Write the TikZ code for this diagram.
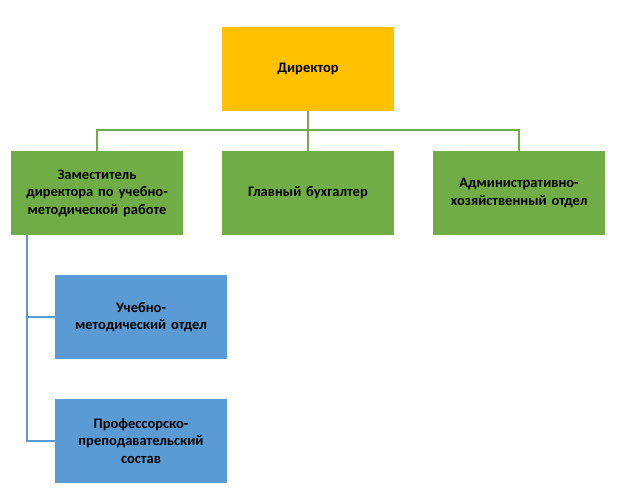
\documentclass[tikz,border=0pt]{standalone}
\usepackage{fontspec}
\setmainfont{Carlito}
\usetikzlibrary{positioning}

\begin{document}
\begin{tikzpicture}[x = 1pt, y = -1pt]
\tikzstyle{BoxStyle}=[shape = rectangle,
                      minimum width = 172pt,
                      minimum height = 84pt,
                      inner sep = 2pt,
                      align = center,
                      text width = 166pt,
                      font = \fontsize{14.5}{17.5}\selectfont\bfseries]
\useasboundingbox (0,0) rectangle (619,497);
\node[BoxStyle, fill = {rgb,255:red,255;green,192;blue,0}] (dir) at (308,69) {Директор};
\node[BoxStyle, fill = {rgb,255:red,112;green,173;blue,71}] (zam) at (97,193) {Заместитель директора по учебно-методической работе};
\node[BoxStyle, fill = {rgb,255:red,112;green,173;blue,71}] (buh) at (308,193) {Главный бухгалтер};
\node[BoxStyle, fill = {rgb,255:red,112;green,173;blue,71}] (adm) at (519,193) {Административно-хозяйственный отдел};
\node[BoxStyle, fill = {rgb,255:red,91;green,155;blue,213}] (umo) at (141,317) {Учебно-\\методический отдел};
\node[BoxStyle, fill = {rgb,255:red,91;green,155;blue,213}] (pps) at (141,441) {Профессорско-\\преподавательский\\состав};
% green connectors
\begin{scope}[draw = {rgb,255:red,112;green,173;blue,71}, line width = 1.5pt]
\draw (dir.south) -- ++(0,19) -| (zam.north);
\draw (dir.south) -- (buh.north);
\draw (dir.south) -- ++(0,19) -| (adm.north);
\end{scope}
% blue connectors
\begin{scope}[draw = {rgb,255:red,91;green,155;blue,213}, line width = 1.5pt]
\coordinate (top) at ([xshift = -70pt]zam.south);
\draw (top) |- (umo.west);
\draw (top) |- (pps.west);
\end{scope}
\end{tikzpicture}
\end{document}
